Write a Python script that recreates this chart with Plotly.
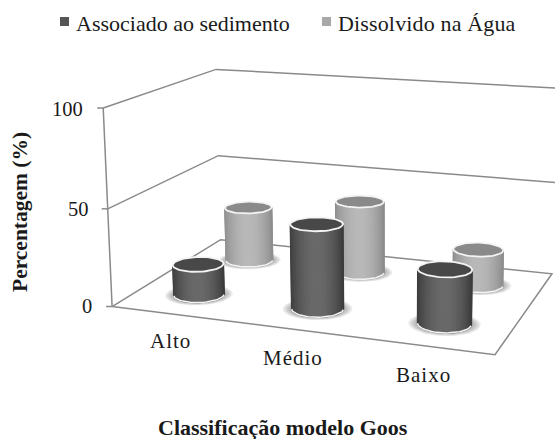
import numpy as np
import plotly.graph_objects as go

# values (%)
categories = ["Alto", "Médio", "Baixo"]
sediment = [16, 43, 27]
dissolved = [30, 39, 19]
series_names = ["Associado ao sedimento", "Dissolvido na Água"]
ticks = [0, 50, 100]

W, H = 555, 439

# fit a projective camera to the box corners: (category pos, depth, value) -> pixel
box_world = np.array([
    [0, 0, 0], [1, 0, 0], [1, 1, 0], [0, 1, 0],
    [0, 0, 100], [0, 1, 100], [0, 0, 50], [0, 1, 50],
    [1, 1, 100], [1, 1, 50],
], dtype=float)
box_pixel = np.array([
    [113, 306], [495, 355], [552, 273], [220, 240],
    [103, 108], [217, 69], [107, 209], [218, 156],
    [556, 88], [555, 183],
], dtype=float)

rows, rhs = [], []
for (a, b, c), (px, py) in zip(box_world, box_pixel):
    rows.append([a, b, c, 1, 0, 0, 0, 0, -px * a, -px * b, -px * c])
    rhs.append(px)
    rows.append([0, 0, 0, 0, a, b, c, 1, -py * a, -py * b, -py * c])
    rhs.append(py)
sol = np.linalg.lstsq(np.array(rows), np.array(rhs), rcond=None)[0]
P = np.append(sol, 1).reshape(3, 4)


def project(u, v, w):
    u, v, w = np.broadcast_arrays(u, v, w)
    pts = P @ np.vstack([u.ravel(), v.ravel(), w.ravel(), np.ones(u.size)])
    return pts[0] / pts[2], pts[1] / pts[2]


fig = go.Figure()


def add_poly(x, y, fill=None, line=None, lw=1, closed=True):
    if closed:
        x, y = np.append(x, x[0]), np.append(y, y[0])
    fig.add_trace(go.Scatter(
        x=x, y=y, mode="lines", hoverinfo="skip", showlegend=False,
        fill="toself" if fill else None, fillcolor=fill,
        line=dict(color=line or "rgba(0,0,0,0)", width=lw if line else 0),
    ))


GRID = "#8a8a8a"
# floor
x, y = project([0, 1, 1, 0], [0, 0, 1, 1], 0)
add_poly(x, y, fill="white", line=GRID, lw=1.5)
# gridlines on the two walls
for t in ticks[1:]:
    x, y = project([0, 0, 1.02], [0, 1, 1], t)
    add_poly(x, y, line=GRID, lw=1.5, closed=False)
# value axis and tick marks
x, y = project([0, 0], [0, 0], [0, 100])
add_poly(x, y, line=GRID, lw=1.5, closed=False)
for t in ticks:
    x, y = project(0, 0, t)
    add_poly(np.array([x[0] - 6, x[0]]), np.array([y[0], y[0]]), line=GRID, lw=1.5, closed=False)

RU, RV = 0.066, 0.10
theta = np.linspace(0, 2 * np.pi, 61)


def cylinder(u0, v0, value, edge, centre, top):
    cu, cv = u0 + RU * np.cos(theta), v0 + RV * np.sin(theta)
    # soft shadow on the floor
    for s in [1.34, 1.27, 1.2, 1.13, 1.06]:
        x, y = project(u0 + s * RU * np.cos(theta), v0 + s * RV * np.sin(theta), 0)
        add_poly(x[:-1], y[:-1], fill="rgba(110,110,110,0.13)")
    bx, by = project(cu, cv, 0)
    tx, ty = project(cu, cv, value)
    keep = []
    for i in range(len(theta) - 1):
        qx = np.array([bx[i], bx[i + 1], tx[i + 1], tx[i]])
        qy = np.array([by[i], by[i + 1], ty[i + 1], ty[i]])
        area = np.sum(qx * np.roll(qy, -1) - np.roll(qx, -1) * qy)
        if area < 0:
            keep.append((i, qx, qy))
    left, right = min(q[1].min() for q in keep), max(q[1].max() for q in keep)
    keep.sort(key=lambda q: q[1].mean())
    for i, qx, qy in keep:
        f = np.sin(np.pi * (qx.mean() - left) / (right - left)) ** 0.8
        g = int(edge + (centre - edge) * f)
        col = f"rgb({g},{g},{g})"
        add_poly(qx, qy, fill=col, line=col, lw=1.4)
    arc = sorted(i for i, _, _ in keep)
    # white rim at the base, then the lid
    order = np.argsort(bx[arc])
    add_poly(bx[arc][order], by[arc][order], line="#f4f4f4", lw=1.5, closed=False)
    add_poly(tx[:-1], ty[:-1], fill=f"rgb({top},{top},{top})", line="#f4f4f4", lw=1.8)


centres = [(i + 0.5) / len(categories) for i in range(len(categories))]
for k in range(len(categories)):
    cylinder(centres[k], 0.75, dissolved[k], 140, 185, 138)
    cylinder(centres[k], 0.25, sediment[k], 58, 106, 72)

# legend swatches
legend_x = [64.5, 326.5]
legend_col = ["#555555", "#a8a8a8"]
for name, lx, col in zip(series_names, legend_x, legend_col):
    fig.add_trace(go.Scatter(x=[lx], y=[21.5], mode="markers", showlegend=False, hoverinfo="skip",
                             marker=dict(symbol="square", size=9, color=col)))


def label(text, x, y, size=22, anchor="left", bold=False, angle=0):
    t = f"<b>{text}</b>" if bold else text
    fig.add_annotation(x=x, y=y, text=t, showarrow=False, textangle=angle,
                       xanchor=anchor, yanchor="middle", borderpad=0,
                       font=dict(family="Liberation Serif", size=size, color="#1a1a1a"))


label(series_names[0], 75, 23)
label(f'<span style="letter-spacing:0.15px">{series_names[1]}</span>', 337, 23)
for t, tx, ty in zip(ticks, [93, 90, 84], [306, 209, 109]):
    label(str(t), tx, ty, size=20.5, anchor="right")
for c, cx, cy in zip(categories, [170, 293, 423], [341, 358, 375]):
    label(f'<span style="letter-spacing:1px">{c}</span>', cx, cy, size=21, anchor="center")
label("Percentagem (%)", 20, 212, size=21.5, anchor="center", bold=True, angle=-90)
label("Classificação modelo Goos", 283, 427, size=22, anchor="center", bold=True)

fig.update_layout(
    width=W, height=H, margin=dict(l=0, r=0, t=0, b=0),
    paper_bgcolor="white", plot_bgcolor="white",
    xaxis=dict(range=[0, W], visible=False, fixedrange=True),
    yaxis=dict(range=[H, 0], visible=False, fixedrange=True),
    showlegend=False,
)
fig.write_html("out.html", config=dict(displayModeBar=False),
               post_script="document.body.style.margin='0';document.body.style.overflow='hidden';")
